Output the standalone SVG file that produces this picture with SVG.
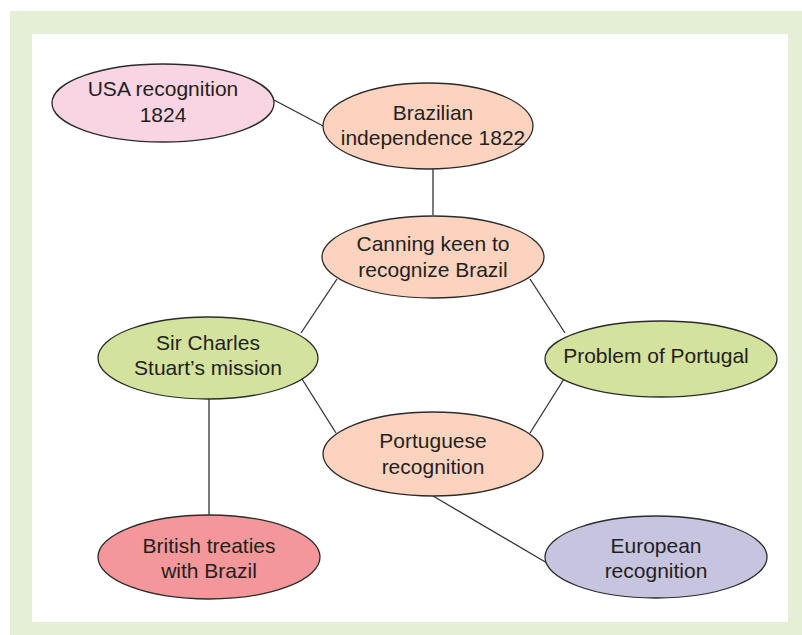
<svg xmlns="http://www.w3.org/2000/svg" width="802" height="635" viewBox="0 0 802 635">
  <style>
    .node ellipse { stroke: #2b2b2b; stroke-width: 1.3; }
    .node text { font-family: "Liberation Sans", Arial, Helvetica, sans-serif; font-size: 21px; fill: #231f20; text-anchor: middle; dominant-baseline: central; }
    .links line { stroke: #333333; stroke-width: 1.3; }
  </style>

  <!-- frame -->
  <rect x="10" y="11" width="792" height="624" fill="#e5efd5"/>
  <rect x="32" y="34" width="756" height="588" fill="#ffffff"/>

  <g class="links">
    <line x1="274" y1="100" x2="325" y2="127"/>
    <line x1="433" y1="169" x2="433" y2="215"/>
    <line x1="337" y1="279" x2="301" y2="333"/>
    <line x1="530" y1="279" x2="565" y2="333"/>
    <line x1="302" y1="379" x2="336" y2="433"/>
    <line x1="564" y1="379" x2="530" y2="433"/>
    <line x1="209" y1="399" x2="209" y2="515"/>
    <line x1="433" y1="496" x2="547" y2="563"/>
  </g>

  <g id="usa" class="node">
    <ellipse cx="163" cy="103" rx="111" ry="39" fill="#f9d4e3"/>
    <text x="163" y="88">USA recognition</text>
    <text x="163" y="114">1824</text>
  </g>

  <g id="independence" class="node">
    <ellipse cx="428" cy="126" rx="105" ry="43" fill="#fbd3bf"/>
    <text x="433" y="112">Brazilian</text>
    <text x="433" y="137">independence 1822</text>
  </g>

  <g id="canning" class="node">
    <ellipse cx="433" cy="257" rx="111" ry="41" fill="#fbd3bf"/>
    <text x="433" y="243">Canning keen to</text>
    <text x="433" y="269">recognize Brazil</text>
  </g>

  <g id="stuart" class="node">
    <ellipse cx="208" cy="358" rx="110" ry="41" fill="#d3e29c"/>
    <text x="208" y="342">Sir Charles</text>
    <text x="208" y="367">Stuart’s mission</text>
  </g>

  <g id="portugal-problem" class="node">
    <ellipse cx="661" cy="359" rx="116" ry="38" fill="#d3e29c"/>
    <text x="656" y="355">Problem of Portugal</text>
  </g>

  <g id="portuguese" class="node">
    <ellipse cx="433" cy="454" rx="110" ry="42" fill="#fbd3bf"/>
    <text x="433" y="440">Portuguese</text>
    <text x="433" y="466">recognition</text>
  </g>

  <g id="treaties" class="node">
    <ellipse cx="209" cy="557" rx="111" ry="42" fill="#f4979a"/>
    <text x="209" y="545">British treaties</text>
    <text x="209" y="570">with Brazil</text>
  </g>

  <g id="european" class="node">
    <ellipse cx="656" cy="557" rx="111" ry="41" fill="#c7c4e0"/>
    <text x="656" y="545">European</text>
    <text x="656" y="570">recognition</text>
  </g>
</svg>
